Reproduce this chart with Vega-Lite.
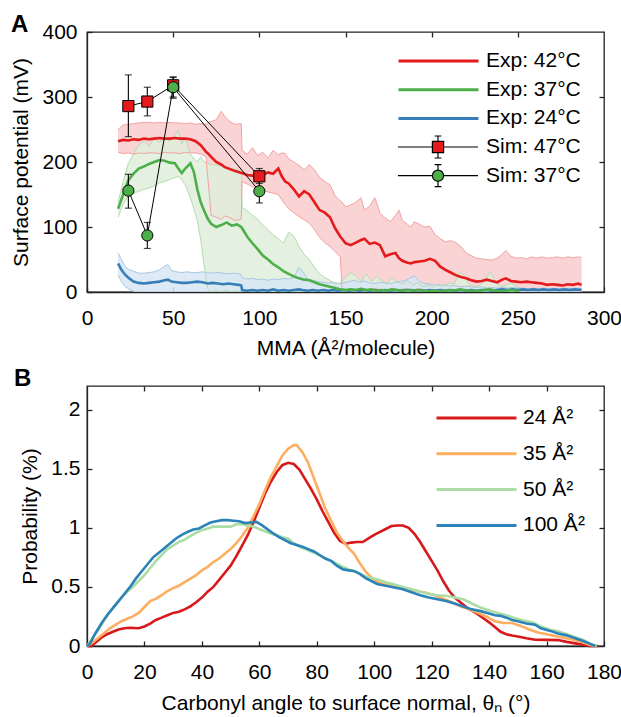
{
"$schema": "https://vega.github.io/schema/vega-lite/v6.json",
"padding": {"left": 10, "top": 12, "right": 0, "bottom": 0},
"background": "white",
"datasets": {
"exp": [
{"s":"Exp: 24°C","x":18,"m":44,"lo":26,"hi":60},{"s":"Exp: 24°C","x":20,"m":34,"lo":16,"hi":50},{"s":"Exp: 24°C","x":22,"m":27,"lo":9,"hi":40},{"s":"Exp: 24°C","x":24,"m":22,"lo":5,"hi":35},{"s":"Exp: 24°C","x":27,"m":16,"lo":1,"hi":32},{"s":"Exp: 24°C","x":30,"m":14,"lo":0,"hi":29},{"s":"Exp: 24°C","x":33,"m":13,"lo":0,"hi":29},{"s":"Exp: 24°C","x":36,"m":14,"lo":0,"hi":30},{"s":"Exp: 24°C","x":39,"m":15,"lo":0,"hi":31},{"s":"Exp: 24°C","x":42,"m":16,"lo":0,"hi":34},{"s":"Exp: 24°C","x":45,"m":18,"lo":0,"hi":40},{"s":"Exp: 24°C","x":47,"m":19,"lo":0,"hi":42},{"s":"Exp: 24°C","x":49,"m":16,"lo":0,"hi":33},{"s":"Exp: 24°C","x":52,"m":15,"lo":0,"hi":31},{"s":"Exp: 24°C","x":55,"m":14,"lo":0,"hi":30},{"s":"Exp: 24°C","x":58,"m":14,"lo":0,"hi":31},{"s":"Exp: 24°C","x":61,"m":15,"lo":0,"hi":30},{"s":"Exp: 24°C","x":64,"m":16,"lo":0,"hi":30},{"s":"Exp: 24°C","x":67,"m":15,"lo":0,"hi":31},{"s":"Exp: 24°C","x":70,"m":13,"lo":0,"hi":30},{"s":"Exp: 24°C","x":73,"m":14,"lo":0,"hi":29},{"s":"Exp: 24°C","x":76,"m":13,"lo":0,"hi":30},{"s":"Exp: 24°C","x":79,"m":12,"lo":0,"hi":29},{"s":"Exp: 24°C","x":82,"m":13,"lo":0,"hi":28},{"s":"Exp: 24°C","x":85,"m":12,"lo":0,"hi":29},{"s":"Exp: 24°C","x":88,"m":11,"lo":0,"hi":28},{"s":"Exp: 24°C","x":89.5,"m":10,"lo":0,"hi":27},{"s":"Exp: 24°C","x":90,"m":3,"lo":0,"hi":22},{"s":"Exp: 24°C","x":93,"m":2,"lo":0,"hi":20},{"s":"Exp: 24°C","x":96,"m":3,"lo":0,"hi":21},{"s":"Exp: 24°C","x":99,"m":2,"lo":0,"hi":19},{"s":"Exp: 24°C","x":102,"m":3,"lo":0,"hi":20},{"s":"Exp: 24°C","x":105,"m":2,"lo":0,"hi":18},{"s":"Exp: 24°C","x":108,"m":4,"lo":0,"hi":20},{"s":"Exp: 24°C","x":111,"m":2,"lo":0,"hi":19},{"s":"Exp: 24°C","x":114,"m":3,"lo":0,"hi":21},{"s":"Exp: 24°C","x":117,"m":2,"lo":0,"hi":20},{"s":"Exp: 24°C","x":120,"m":3,"lo":0,"hi":22},{"s":"Exp: 24°C","x":123,"m":4,"lo":0,"hi":38},{"s":"Exp: 24°C","x":125,"m":3,"lo":0,"hi":32},{"s":"Exp: 24°C","x":128,"m":2,"lo":0,"hi":20},{"s":"Exp: 24°C","x":131,"m":3,"lo":0,"hi":18},{"s":"Exp: 24°C","x":134,"m":2,"lo":0,"hi":16},{"s":"Exp: 24°C","x":137,"m":3,"lo":0,"hi":15},{"s":"Exp: 24°C","x":140,"m":2,"lo":0,"hi":14},{"s":"Exp: 24°C","x":143,"m":3,"lo":0,"hi":15},{"s":"Exp: 24°C","x":146,"m":2,"lo":0,"hi":13},{"s":"Exp: 24°C","x":149,"m":3,"lo":0,"hi":14},{"s":"Exp: 24°C","x":152,"m":2,"lo":0,"hi":16},{"s":"Exp: 24°C","x":155,"m":3,"lo":0,"hi":18},{"s":"Exp: 24°C","x":158,"m":2,"lo":0,"hi":15},{"s":"Exp: 24°C","x":161,"m":3,"lo":0,"hi":17},{"s":"Exp: 24°C","x":164,"m":2,"lo":0,"hi":14},{"s":"Exp: 24°C","x":167,"m":3,"lo":0,"hi":13},{"s":"Exp: 24°C","x":170,"m":2,"lo":0,"hi":15},{"s":"Exp: 24°C","x":173,"m":3,"lo":0,"hi":14},{"s":"Exp: 24°C","x":176,"m":2,"lo":0,"hi":13},{"s":"Exp: 24°C","x":179,"m":3,"lo":0,"hi":15},{"s":"Exp: 24°C","x":182,"m":2,"lo":0,"hi":16},{"s":"Exp: 24°C","x":185,"m":3,"lo":0,"hi":18},{"s":"Exp: 24°C","x":188,"m":3,"lo":0,"hi":22},{"s":"Exp: 24°C","x":190,"m":2,"lo":0,"hi":25},{"s":"Exp: 24°C","x":193,"m":3,"lo":0,"hi":16},{"s":"Exp: 24°C","x":196,"m":2,"lo":0,"hi":13},{"s":"Exp: 24°C","x":199,"m":3,"lo":0,"hi":12},{"s":"Exp: 24°C","x":202,"m":2,"lo":0,"hi":11},{"s":"Exp: 24°C","x":205,"m":3,"lo":0,"hi":10},{"s":"Exp: 24°C","x":208,"m":2,"lo":0,"hi":11},{"s":"Exp: 24°C","x":211,"m":3,"lo":0,"hi":9},{"s":"Exp: 24°C","x":214,"m":2,"lo":0,"hi":10},{"s":"Exp: 24°C","x":217,"m":3,"lo":0,"hi":8},{"s":"Exp: 24°C","x":220,"m":2,"lo":0,"hi":9},{"s":"Exp: 24°C","x":223,"m":3,"lo":0,"hi":8},{"s":"Exp: 24°C","x":226,"m":2,"lo":0,"hi":7},{"s":"Exp: 24°C","x":229,"m":3,"lo":0,"hi":8},{"s":"Exp: 24°C","x":232,"m":3,"lo":0,"hi":6},{"s":"Exp: 24°C","x":235,"m":2,"lo":0,"hi":7},{"s":"Exp: 24°C","x":238,"m":3,"lo":0,"hi":6},{"s":"Exp: 24°C","x":241,"m":4,"lo":0,"hi":7},{"s":"Exp: 24°C","x":244,"m":3,"lo":0,"hi":6},{"s":"Exp: 24°C","x":247,"m":4,"lo":0,"hi":7},{"s":"Exp: 24°C","x":250,"m":3,"lo":0,"hi":6},{"s":"Exp: 24°C","x":253,"m":4,"lo":0,"hi":6},{"s":"Exp: 24°C","x":256,"m":3,"lo":0,"hi":5},{"s":"Exp: 24°C","x":259,"m":4,"lo":0,"hi":6},{"s":"Exp: 24°C","x":262,"m":3,"lo":0,"hi":5},{"s":"Exp: 24°C","x":265,"m":4,"lo":0,"hi":6},{"s":"Exp: 24°C","x":268,"m":3,"lo":0,"hi":5},{"s":"Exp: 24°C","x":271,"m":4,"lo":0,"hi":6},{"s":"Exp: 24°C","x":274,"m":3,"lo":0,"hi":5},{"s":"Exp: 24°C","x":277,"m":4,"lo":0,"hi":6},{"s":"Exp: 24°C","x":280,"m":3,"lo":0,"hi":5},{"s":"Exp: 24°C","x":283,"m":4,"lo":0,"hi":6},{"s":"Exp: 24°C","x":287,"m":3,"lo":0,"hi":5},
{"s":"Exp: 37°C","x":18,"m":128,"lo":115,"hi":138},{"s":"Exp: 37°C","x":21,"m":150,"lo":135,"hi":170},{"s":"Exp: 37°C","x":24,"m":172,"lo":148,"hi":198},{"s":"Exp: 37°C","x":27,"m":182,"lo":152,"hi":212},{"s":"Exp: 37°C","x":30,"m":190,"lo":155,"hi":226},{"s":"Exp: 37°C","x":33,"m":193,"lo":158,"hi":232},{"s":"Exp: 37°C","x":36,"m":197,"lo":160,"hi":224},{"s":"Exp: 37°C","x":39,"m":200,"lo":163,"hi":236},{"s":"Exp: 37°C","x":42,"m":203,"lo":168,"hi":230},{"s":"Exp: 37°C","x":45,"m":202,"lo":170,"hi":238},{"s":"Exp: 37°C","x":48,"m":199,"lo":173,"hi":232},{"s":"Exp: 37°C","x":51,"m":198,"lo":176,"hi":240},{"s":"Exp: 37°C","x":53,"m":190,"lo":178,"hi":248},{"s":"Exp: 37°C","x":55,"m":183,"lo":172,"hi":228},{"s":"Exp: 37°C","x":57,"m":190,"lo":165,"hi":236},{"s":"Exp: 37°C","x":60,"m":198,"lo":145,"hi":212},{"s":"Exp: 37°C","x":62,"m":185,"lo":128,"hi":205},{"s":"Exp: 37°C","x":64,"m":158,"lo":110,"hi":200},{"s":"Exp: 37°C","x":66,"m":138,"lo":80,"hi":208},{"s":"Exp: 37°C","x":68,"m":125,"lo":40,"hi":200},{"s":"Exp: 37°C","x":70,"m":113,"lo":5,"hi":198},{"s":"Exp: 37°C","x":72,"m":105,"lo":0,"hi":196},{"s":"Exp: 37°C","x":75,"m":100,"lo":2,"hi":195},{"s":"Exp: 37°C","x":78,"m":103,"lo":0,"hi":194},{"s":"Exp: 37°C","x":81,"m":107,"lo":3,"hi":192},{"s":"Exp: 37°C","x":84,"m":102,"lo":0,"hi":190},{"s":"Exp: 37°C","x":87,"m":104,"lo":2,"hi":188},{"s":"Exp: 37°C","x":89.5,"m":100,"lo":0,"hi":186},{"s":"Exp: 37°C","x":90,"m":98,"lo":0,"hi":130},{"s":"Exp: 37°C","x":93,"m":85,"lo":2,"hi":125},{"s":"Exp: 37°C","x":96,"m":75,"lo":0,"hi":118},{"s":"Exp: 37°C","x":99,"m":66,"lo":3,"hi":112},{"s":"Exp: 37°C","x":102,"m":56,"lo":0,"hi":103},{"s":"Exp: 37°C","x":105,"m":50,"lo":2,"hi":96},{"s":"Exp: 37°C","x":108,"m":43,"lo":0,"hi":88},{"s":"Exp: 37°C","x":111,"m":38,"lo":3,"hi":82},{"s":"Exp: 37°C","x":114,"m":32,"lo":0,"hi":75},{"s":"Exp: 37°C","x":117,"m":28,"lo":2,"hi":92},{"s":"Exp: 37°C","x":120,"m":24,"lo":0,"hi":86},{"s":"Exp: 37°C","x":123,"m":21,"lo":2,"hi":70},{"s":"Exp: 37°C","x":126,"m":19,"lo":0,"hi":58},{"s":"Exp: 37°C","x":129,"m":18,"lo":1,"hi":50},{"s":"Exp: 37°C","x":132,"m":15,"lo":0,"hi":38},{"s":"Exp: 37°C","x":135,"m":12,"lo":0,"hi":28},{"s":"Exp: 37°C","x":138,"m":10,"lo":0,"hi":22},{"s":"Exp: 37°C","x":141,"m":8,"lo":0,"hi":18},{"s":"Exp: 37°C","x":144,"m":6,"lo":0,"hi":12},{"s":"Exp: 37°C","x":147,"m":4,"lo":0,"hi":14},{"s":"Exp: 37°C","x":150,"m":3,"lo":0,"hi":22},{"s":"Exp: 37°C","x":153,"m":4,"lo":0,"hi":30},{"s":"Exp: 37°C","x":156,"m":3,"lo":0,"hi":25},{"s":"Exp: 37°C","x":159,"m":5,"lo":0,"hi":16},{"s":"Exp: 37°C","x":162,"m":3,"lo":0,"hi":28},{"s":"Exp: 37°C","x":165,"m":4,"lo":0,"hi":16},{"s":"Exp: 37°C","x":168,"m":2,"lo":0,"hi":24},{"s":"Exp: 37°C","x":171,"m":3,"lo":0,"hi":18},{"s":"Exp: 37°C","x":174,"m":2,"lo":0,"hi":12},{"s":"Exp: 37°C","x":177,"m":4,"lo":0,"hi":22},{"s":"Exp: 37°C","x":180,"m":3,"lo":0,"hi":16},{"s":"Exp: 37°C","x":183,"m":2,"lo":0,"hi":12},{"s":"Exp: 37°C","x":186,"m":3,"lo":0,"hi":18},{"s":"Exp: 37°C","x":189,"m":2,"lo":0,"hi":10},{"s":"Exp: 37°C","x":192,"m":3,"lo":0,"hi":14},{"s":"Exp: 37°C","x":195,"m":2,"lo":0,"hi":8},{"s":"Exp: 37°C","x":198,"m":1,"lo":0,"hi":10},{"s":"Exp: 37°C","x":201,"m":2,"lo":0,"hi":8},{"s":"Exp: 37°C","x":204,"m":1,"lo":0,"hi":12},{"s":"Exp: 37°C","x":207,"m":2,"lo":0,"hi":9},{"s":"Exp: 37°C","x":210,"m":3,"lo":0,"hi":14},{"s":"Exp: 37°C","x":213,"m":2,"lo":0,"hi":12},{"s":"Exp: 37°C","x":216,"m":4,"lo":0,"hi":30},{"s":"Exp: 37°C","x":219,"m":3,"lo":0,"hi":25},{"s":"Exp: 37°C","x":222,"m":2,"lo":0,"hi":10},{"s":"Exp: 37°C","x":225,"m":1,"lo":0,"hi":8},{"s":"Exp: 37°C","x":228,"m":2,"lo":0,"hi":10},{"s":"Exp: 37°C","x":231,"m":3,"lo":0,"hi":18},{"s":"Exp: 37°C","x":234,"m":4,"lo":0,"hi":32},{"s":"Exp: 37°C","x":237,"m":2,"lo":0,"hi":15},{"s":"Exp: 37°C","x":240,"m":1,"lo":0,"hi":8},{"s":"Exp: 37°C","x":243,"m":2,"lo":0,"hi":10},{"s":"Exp: 37°C","x":246,"m":3,"lo":0,"hi":14},{"s":"Exp: 37°C","x":249,"m":2,"lo":0,"hi":9},{"s":"Exp: 37°C","x":251,"m":1,"lo":0,"hi":6},
{"s":"Exp: 42°C","x":18,"m":232,"lo":215,"hi":250},{"s":"Exp: 42°C","x":21,"m":234,"lo":213,"hi":257},{"s":"Exp: 42°C","x":24,"m":233,"lo":214,"hi":258},{"s":"Exp: 42°C","x":27,"m":235,"lo":212,"hi":259},{"s":"Exp: 42°C","x":30,"m":234,"lo":214,"hi":260},{"s":"Exp: 42°C","x":33,"m":236,"lo":213,"hi":261},{"s":"Exp: 42°C","x":36,"m":235,"lo":214,"hi":261},{"s":"Exp: 42°C","x":39,"m":236,"lo":214,"hi":260},{"s":"Exp: 42°C","x":42,"m":237,"lo":213,"hi":261},{"s":"Exp: 42°C","x":45,"m":236,"lo":215,"hi":260},{"s":"Exp: 42°C","x":48,"m":236,"lo":214,"hi":261},{"s":"Exp: 42°C","x":51,"m":237,"lo":214,"hi":260},{"s":"Exp: 42°C","x":54,"m":236,"lo":213,"hi":260},{"s":"Exp: 42°C","x":57,"m":236,"lo":215,"hi":259},{"s":"Exp: 42°C","x":60,"m":235,"lo":214,"hi":260},{"s":"Exp: 42°C","x":63,"m":232,"lo":214,"hi":258},{"s":"Exp: 42°C","x":66,"m":226,"lo":212,"hi":259},{"s":"Exp: 42°C","x":69,"m":216,"lo":208,"hi":258},{"s":"Exp: 42°C","x":71,"m":211,"lo":150,"hi":262},{"s":"Exp: 42°C","x":72,"m":208,"lo":118,"hi":262},{"s":"Exp: 42°C","x":75,"m":200,"lo":115,"hi":265},{"s":"Exp: 42°C","x":78,"m":196,"lo":112,"hi":278},{"s":"Exp: 42°C","x":80,"m":192,"lo":117,"hi":270},{"s":"Exp: 42°C","x":83,"m":189,"lo":114,"hi":262},{"s":"Exp: 42°C","x":86,"m":186,"lo":110,"hi":258},{"s":"Exp: 42°C","x":89.5,"m":183,"lo":112,"hi":259},{"s":"Exp: 42°C","x":90,"m":183,"lo":170,"hi":218},{"s":"Exp: 42°C","x":93,"m":180,"lo":166,"hi":212},{"s":"Exp: 42°C","x":96,"m":179,"lo":162,"hi":222},{"s":"Exp: 42°C","x":99,"m":178,"lo":158,"hi":210},{"s":"Exp: 42°C","x":102,"m":180,"lo":156,"hi":215},{"s":"Exp: 42°C","x":105,"m":184,"lo":154,"hi":206},{"s":"Exp: 42°C","x":108,"m":182,"lo":152,"hi":218},{"s":"Exp: 42°C","x":111,"m":190,"lo":150,"hi":211},{"s":"Exp: 42°C","x":113,"m":178,"lo":142,"hi":214},{"s":"Exp: 42°C","x":115,"m":170,"lo":135,"hi":213},{"s":"Exp: 42°C","x":117,"m":167,"lo":128,"hi":205},{"s":"Exp: 42°C","x":120,"m":158,"lo":122,"hi":200},{"s":"Exp: 42°C","x":123,"m":147,"lo":116,"hi":195},{"s":"Exp: 42°C","x":126,"m":155,"lo":111,"hi":188},{"s":"Exp: 42°C","x":129,"m":150,"lo":106,"hi":196},{"s":"Exp: 42°C","x":132,"m":138,"lo":96,"hi":188},{"s":"Exp: 42°C","x":135,"m":126,"lo":84,"hi":176},{"s":"Exp: 42°C","x":138,"m":122,"lo":76,"hi":170},{"s":"Exp: 42°C","x":141,"m":115,"lo":70,"hi":165},{"s":"Exp: 42°C","x":144,"m":98,"lo":62,"hi":148},{"s":"Exp: 42°C","x":147,"m":85,"lo":54,"hi":140},{"s":"Exp: 42°C","x":148,"m":82,"lo":4,"hi":138},{"s":"Exp: 42°C","x":150,"m":75,"lo":3,"hi":131},{"s":"Exp: 42°C","x":153,"m":72,"lo":5,"hi":134},{"s":"Exp: 42°C","x":156,"m":76,"lo":3,"hi":138},{"s":"Exp: 42°C","x":159,"m":80,"lo":6,"hi":145},{"s":"Exp: 42°C","x":161,"m":82,"lo":4,"hi":126},{"s":"Exp: 42°C","x":164,"m":74,"lo":3,"hi":132},{"s":"Exp: 42°C","x":167,"m":76,"lo":5,"hi":145},{"s":"Exp: 42°C","x":170,"m":72,"lo":4,"hi":122},{"s":"Exp: 42°C","x":173,"m":55,"lo":3,"hi":114},{"s":"Exp: 42°C","x":176,"m":58,"lo":5,"hi":108},{"s":"Exp: 42°C","x":179,"m":60,"lo":4,"hi":118},{"s":"Exp: 42°C","x":181,"m":52,"lo":3,"hi":126},{"s":"Exp: 42°C","x":183,"m":48,"lo":5,"hi":110},{"s":"Exp: 42°C","x":186,"m":45,"lo":4,"hi":104},{"s":"Exp: 42°C","x":188,"m":44,"lo":3,"hi":100},{"s":"Exp: 42°C","x":190,"m":46,"lo":4,"hi":108},{"s":"Exp: 42°C","x":193,"m":47,"lo":5,"hi":104},{"s":"Exp: 42°C","x":196,"m":48,"lo":3,"hi":100},{"s":"Exp: 42°C","x":199,"m":51,"lo":4,"hi":101},{"s":"Exp: 42°C","x":202,"m":48,"lo":3,"hi":88},{"s":"Exp: 42°C","x":205,"m":39,"lo":4,"hi":82},{"s":"Exp: 42°C","x":208,"m":34,"lo":3,"hi":77},{"s":"Exp: 42°C","x":211,"m":30,"lo":2,"hi":79},{"s":"Exp: 42°C","x":214,"m":26,"lo":3,"hi":76},{"s":"Exp: 42°C","x":217,"m":23,"lo":2,"hi":70},{"s":"Exp: 42°C","x":220,"m":21,"lo":3,"hi":60},{"s":"Exp: 42°C","x":223,"m":18,"lo":2,"hi":56},{"s":"Exp: 42°C","x":226,"m":16,"lo":2,"hi":52},{"s":"Exp: 42°C","x":229,"m":17,"lo":3,"hi":51},{"s":"Exp: 42°C","x":232,"m":19,"lo":2,"hi":50},{"s":"Exp: 42°C","x":235,"m":17,"lo":2,"hi":49},{"s":"Exp: 42°C","x":238,"m":15,"lo":3,"hi":52},{"s":"Exp: 42°C","x":241,"m":19,"lo":2,"hi":58},{"s":"Exp: 42°C","x":243,"m":21,"lo":2,"hi":64},{"s":"Exp: 42°C","x":246,"m":17,"lo":3,"hi":55},{"s":"Exp: 42°C","x":249,"m":16,"lo":2,"hi":52},{"s":"Exp: 42°C","x":252,"m":15,"lo":2,"hi":53},{"s":"Exp: 42°C","x":255,"m":16,"lo":3,"hi":51},{"s":"Exp: 42°C","x":258,"m":15,"lo":2,"hi":54},{"s":"Exp: 42°C","x":261,"m":14,"lo":2,"hi":52},{"s":"Exp: 42°C","x":264,"m":13,"lo":3,"hi":54},{"s":"Exp: 42°C","x":267,"m":11,"lo":2,"hi":52},{"s":"Exp: 42°C","x":270,"m":12,"lo":2,"hi":53},{"s":"Exp: 42°C","x":273,"m":11,"lo":3,"hi":54},{"s":"Exp: 42°C","x":276,"m":10,"lo":2,"hi":52},{"s":"Exp: 42°C","x":279,"m":12,"lo":2,"hi":54},{"s":"Exp: 42°C","x":282,"m":11,"lo":3,"hi":53},{"s":"Exp: 42°C","x":285,"m":13,"lo":2,"hi":54},{"s":"Exp: 42°C","x":287,"m":11,"lo":2,"hi":53}
],
"sim": [
{"s":"Sim: 47°C","x":24,"v":286,"lo":239,"hi":334},{"s":"Sim: 47°C","x":35,"v":293,"lo":271,"hi":315},{"s":"Sim: 47°C","x":50,"v":318,"lo":298,"hi":331},{"s":"Sim: 47°C","x":100,"v":178,"lo":167,"hi":190},
{"s":"Sim: 37°C","x":24,"v":156,"lo":129,"hi":181},{"s":"Sim: 37°C","x":35,"v":87,"lo":67,"hi":107},{"s":"Sim: 37°C","x":50,"v":315,"lo":300,"hi":330},{"s":"Sim: 37°C","x":100,"v":155,"lo":137,"hi":172}
],
"ang": [
{"a":"24 Å²","x":0,"p":0},{"a":"24 Å²","x":1.5,"p":0},{"a":"24 Å²","x":3,"p":0.03},{"a":"24 Å²","x":5,"p":0.07},{"a":"24 Å²","x":7,"p":0.1},{"a":"24 Å²","x":9,"p":0.12},{"a":"24 Å²","x":11,"p":0.14},{"a":"24 Å²","x":13,"p":0.15},{"a":"24 Å²","x":15,"p":0.155},{"a":"24 Å²","x":18,"p":0.15},{"a":"24 Å²","x":20,"p":0.165},{"a":"24 Å²","x":22,"p":0.19},{"a":"24 Å²","x":24,"p":0.22},{"a":"24 Å²","x":26,"p":0.24},{"a":"24 Å²","x":28,"p":0.26},{"a":"24 Å²","x":30,"p":0.28},{"a":"24 Å²","x":32,"p":0.29},{"a":"24 Å²","x":34,"p":0.31},{"a":"24 Å²","x":36,"p":0.335},{"a":"24 Å²","x":38,"p":0.37},{"a":"24 Å²","x":40,"p":0.41},{"a":"24 Å²","x":42,"p":0.46},{"a":"24 Å²","x":44,"p":0.5},{"a":"24 Å²","x":46,"p":0.56},{"a":"24 Å²","x":48,"p":0.62},{"a":"24 Å²","x":50,"p":0.68},{"a":"24 Å²","x":52,"p":0.76},{"a":"24 Å²","x":54,"p":0.85},{"a":"24 Å²","x":56,"p":0.94},{"a":"24 Å²","x":58,"p":1.05},{"a":"24 Å²","x":60,"p":1.17},{"a":"24 Å²","x":62,"p":1.29},{"a":"24 Å²","x":64,"p":1.39},{"a":"24 Å²","x":66,"p":1.47},{"a":"24 Å²","x":68,"p":1.53},{"a":"24 Å²","x":70,"p":1.55},{"a":"24 Å²","x":72,"p":1.54},{"a":"24 Å²","x":74,"p":1.49},{"a":"24 Å²","x":76,"p":1.41},{"a":"24 Å²","x":78,"p":1.33},{"a":"24 Å²","x":80,"p":1.24},{"a":"24 Å²","x":82,"p":1.14},{"a":"24 Å²","x":84,"p":1.05},{"a":"24 Å²","x":86,"p":0.96},{"a":"24 Å²","x":88,"p":0.89},{"a":"24 Å²","x":90,"p":0.865},{"a":"24 Å²","x":92,"p":0.875},{"a":"24 Å²","x":94,"p":0.88},{"a":"24 Å²","x":96,"p":0.88},{"a":"24 Å²","x":98,"p":0.91},{"a":"24 Å²","x":100,"p":0.94},{"a":"24 Å²","x":102,"p":0.965},{"a":"24 Å²","x":104,"p":0.99},{"a":"24 Å²","x":106,"p":1.015},{"a":"24 Å²","x":108,"p":1.02},{"a":"24 Å²","x":110,"p":1.02},{"a":"24 Å²","x":112,"p":1.0},{"a":"24 Å²","x":114,"p":0.95},{"a":"24 Å²","x":116,"p":0.88},{"a":"24 Å²","x":118,"p":0.8},{"a":"24 Å²","x":120,"p":0.72},{"a":"24 Å²","x":122,"p":0.64},{"a":"24 Å²","x":124,"p":0.55},{"a":"24 Å²","x":126,"p":0.47},{"a":"24 Å²","x":128,"p":0.41},{"a":"24 Å²","x":130,"p":0.37},{"a":"24 Å²","x":132,"p":0.33},{"a":"24 Å²","x":134,"p":0.3},{"a":"24 Å²","x":136,"p":0.27},{"a":"24 Å²","x":138,"p":0.235},{"a":"24 Å²","x":140,"p":0.2},{"a":"24 Å²","x":142,"p":0.16},{"a":"24 Å²","x":144,"p":0.12},{"a":"24 Å²","x":146,"p":0.1},{"a":"24 Å²","x":148,"p":0.088},{"a":"24 Å²","x":150,"p":0.08},{"a":"24 Å²","x":153,"p":0.065},{"a":"24 Å²","x":156,"p":0.053},{"a":"24 Å²","x":160,"p":0.052},{"a":"24 Å²","x":164,"p":0.05},{"a":"24 Å²","x":167,"p":0.035},{"a":"24 Å²","x":170,"p":0.022},{"a":"24 Å²","x":173,"p":0.01},{"a":"24 Å²","x":175,"p":0},{"a":"24 Å²","x":178,"p":0},
{"a":"35 Å²","x":0,"p":0},{"a":"35 Å²","x":2,"p":0.03},{"a":"35 Å²","x":4,"p":0.07},{"a":"35 Å²","x":6,"p":0.11},{"a":"35 Å²","x":8,"p":0.15},{"a":"35 Å²","x":10,"p":0.18},{"a":"35 Å²","x":12,"p":0.21},{"a":"35 Å²","x":14,"p":0.23},{"a":"35 Å²","x":16,"p":0.25},{"a":"35 Å²","x":18,"p":0.28},{"a":"35 Å²","x":20,"p":0.33},{"a":"35 Å²","x":22,"p":0.38},{"a":"35 Å²","x":24,"p":0.4},{"a":"35 Å²","x":26,"p":0.43},{"a":"35 Å²","x":28,"p":0.465},{"a":"35 Å²","x":30,"p":0.49},{"a":"35 Å²","x":32,"p":0.51},{"a":"35 Å²","x":34,"p":0.54},{"a":"35 Å²","x":36,"p":0.57},{"a":"35 Å²","x":38,"p":0.6},{"a":"35 Å²","x":40,"p":0.64},{"a":"35 Å²","x":42,"p":0.67},{"a":"35 Å²","x":44,"p":0.71},{"a":"35 Å²","x":46,"p":0.74},{"a":"35 Å²","x":48,"p":0.78},{"a":"35 Å²","x":50,"p":0.82},{"a":"35 Å²","x":52,"p":0.87},{"a":"35 Å²","x":54,"p":0.93},{"a":"35 Å²","x":56,"p":1.0},{"a":"35 Å²","x":58,"p":1.1},{"a":"35 Å²","x":60,"p":1.2},{"a":"35 Å²","x":62,"p":1.32},{"a":"35 Å²","x":64,"p":1.43},{"a":"35 Å²","x":66,"p":1.52},{"a":"35 Å²","x":68,"p":1.61},{"a":"35 Å²","x":70,"p":1.67},{"a":"35 Å²","x":72,"p":1.7},{"a":"35 Å²","x":73,"p":1.7},{"a":"35 Å²","x":75,"p":1.64},{"a":"35 Å²","x":77,"p":1.55},{"a":"35 Å²","x":79,"p":1.42},{"a":"35 Å²","x":81,"p":1.29},{"a":"35 Å²","x":83,"p":1.16},{"a":"35 Å²","x":85,"p":1.06},{"a":"35 Å²","x":87,"p":0.96},{"a":"35 Å²","x":89,"p":0.89},{"a":"35 Å²","x":91,"p":0.83},{"a":"35 Å²","x":93,"p":0.78},{"a":"35 Å²","x":95,"p":0.7},{"a":"35 Å²","x":97,"p":0.63},{"a":"35 Å²","x":99,"p":0.58},{"a":"35 Å²","x":101,"p":0.545},{"a":"35 Å²","x":103,"p":0.525},{"a":"35 Å²","x":106,"p":0.51},{"a":"35 Å²","x":109,"p":0.495},{"a":"35 Å²","x":112,"p":0.48},{"a":"35 Å²","x":115,"p":0.465},{"a":"35 Å²","x":118,"p":0.45},{"a":"35 Å²","x":121,"p":0.43},{"a":"35 Å²","x":124,"p":0.4},{"a":"35 Å²","x":127,"p":0.37},{"a":"35 Å²","x":130,"p":0.335},{"a":"35 Å²","x":133,"p":0.31},{"a":"35 Å²","x":136,"p":0.28},{"a":"35 Å²","x":139,"p":0.25},{"a":"35 Å²","x":142,"p":0.21},{"a":"35 Å²","x":145,"p":0.195},{"a":"35 Å²","x":148,"p":0.195},{"a":"35 Å²","x":151,"p":0.17},{"a":"35 Å²","x":154,"p":0.14},{"a":"35 Å²","x":157,"p":0.115},{"a":"35 Å²","x":160,"p":0.1},{"a":"35 Å²","x":163,"p":0.085},{"a":"35 Å²","x":166,"p":0.07},{"a":"35 Å²","x":169,"p":0.055},{"a":"35 Å²","x":172,"p":0.035},{"a":"35 Å²","x":175,"p":0.01},{"a":"35 Å²","x":177,"p":0},
{"a":"50 Å²","x":0,"p":0},{"a":"50 Å²","x":2,"p":0.07},{"a":"50 Å²","x":4,"p":0.14},{"a":"50 Å²","x":6,"p":0.22},{"a":"50 Å²","x":8,"p":0.29},{"a":"50 Å²","x":10,"p":0.35},{"a":"50 Å²","x":12,"p":0.41},{"a":"50 Å²","x":14,"p":0.46},{"a":"50 Å²","x":16,"p":0.5},{"a":"50 Å²","x":18,"p":0.55},{"a":"50 Å²","x":20,"p":0.6},{"a":"50 Å²","x":22,"p":0.66},{"a":"50 Å²","x":24,"p":0.72},{"a":"50 Å²","x":26,"p":0.77},{"a":"50 Å²","x":28,"p":0.82},{"a":"50 Å²","x":30,"p":0.85},{"a":"50 Å²","x":32,"p":0.88},{"a":"50 Å²","x":34,"p":0.9},{"a":"50 Å²","x":36,"p":0.93},{"a":"50 Å²","x":38,"p":0.96},{"a":"50 Å²","x":40,"p":0.98},{"a":"50 Å²","x":42,"p":0.995},{"a":"50 Å²","x":44,"p":1.01},{"a":"50 Å²","x":46,"p":1.01},{"a":"50 Å²","x":48,"p":1.01},{"a":"50 Å²","x":50,"p":1.01},{"a":"50 Å²","x":52,"p":1.03},{"a":"50 Å²","x":54,"p":1.03},{"a":"50 Å²","x":56,"p":1.02},{"a":"50 Å²","x":58,"p":1.01},{"a":"50 Å²","x":60,"p":0.99},{"a":"50 Å²","x":62,"p":0.97},{"a":"50 Å²","x":64,"p":0.95},{"a":"50 Å²","x":66,"p":0.94},{"a":"50 Å²","x":68,"p":0.92},{"a":"50 Å²","x":70,"p":0.91},{"a":"50 Å²","x":72,"p":0.87},{"a":"50 Å²","x":74,"p":0.84},{"a":"50 Å²","x":76,"p":0.82},{"a":"50 Å²","x":78,"p":0.8},{"a":"50 Å²","x":80,"p":0.78},{"a":"50 Å²","x":83,"p":0.74},{"a":"50 Å²","x":86,"p":0.71},{"a":"50 Å²","x":89,"p":0.67},{"a":"50 Å²","x":92,"p":0.64},{"a":"50 Å²","x":95,"p":0.61},{"a":"50 Å²","x":98,"p":0.58},{"a":"50 Å²","x":101,"p":0.565},{"a":"50 Å²","x":104,"p":0.54},{"a":"50 Å²","x":107,"p":0.52},{"a":"50 Å²","x":110,"p":0.5},{"a":"50 Å²","x":113,"p":0.48},{"a":"50 Å²","x":116,"p":0.46},{"a":"50 Å²","x":119,"p":0.44},{"a":"50 Å²","x":122,"p":0.43},{"a":"50 Å²","x":125,"p":0.425},{"a":"50 Å²","x":128,"p":0.41},{"a":"50 Å²","x":131,"p":0.395},{"a":"50 Å²","x":134,"p":0.36},{"a":"50 Å²","x":137,"p":0.325},{"a":"50 Å²","x":140,"p":0.3},{"a":"50 Å²","x":143,"p":0.28},{"a":"50 Å²","x":146,"p":0.26},{"a":"50 Å²","x":149,"p":0.235},{"a":"50 Å²","x":152,"p":0.215},{"a":"50 Å²","x":155,"p":0.2},{"a":"50 Å²","x":158,"p":0.165},{"a":"50 Å²","x":161,"p":0.14},{"a":"50 Å²","x":164,"p":0.125},{"a":"50 Å²","x":167,"p":0.1},{"a":"50 Å²","x":170,"p":0.075},{"a":"50 Å²","x":173,"p":0.05},{"a":"50 Å²","x":176,"p":0.01},{"a":"50 Å²","x":177.5,"p":0},
{"a":"100 Å²","x":0,"p":0},{"a":"100 Å²","x":1,"p":0.02},{"a":"100 Å²","x":3,"p":0.11},{"a":"100 Å²","x":5,"p":0.19},{"a":"100 Å²","x":7,"p":0.26},{"a":"100 Å²","x":9,"p":0.32},{"a":"100 Å²","x":11,"p":0.38},{"a":"100 Å²","x":13,"p":0.44},{"a":"100 Å²","x":15,"p":0.5},{"a":"100 Å²","x":17,"p":0.57},{"a":"100 Å²","x":19,"p":0.63},{"a":"100 Å²","x":21,"p":0.69},{"a":"100 Å²","x":23,"p":0.75},{"a":"100 Å²","x":25,"p":0.79},{"a":"100 Å²","x":27,"p":0.83},{"a":"100 Å²","x":29,"p":0.87},{"a":"100 Å²","x":31,"p":0.91},{"a":"100 Å²","x":33,"p":0.94},{"a":"100 Å²","x":35,"p":0.965},{"a":"100 Å²","x":37,"p":0.985},{"a":"100 Å²","x":39,"p":0.995},{"a":"100 Å²","x":41,"p":1.02},{"a":"100 Å²","x":43,"p":1.045},{"a":"100 Å²","x":45,"p":1.055},{"a":"100 Å²","x":47,"p":1.065},{"a":"100 Å²","x":49,"p":1.065},{"a":"100 Å²","x":51,"p":1.06},{"a":"100 Å²","x":53,"p":1.055},{"a":"100 Å²","x":55,"p":1.04},{"a":"100 Å²","x":57,"p":1.045},{"a":"100 Å²","x":59,"p":1.05},{"a":"100 Å²","x":61,"p":1.02},{"a":"100 Å²","x":63,"p":0.985},{"a":"100 Å²","x":65,"p":0.95},{"a":"100 Å²","x":67,"p":0.92},{"a":"100 Å²","x":69,"p":0.895},{"a":"100 Å²","x":71,"p":0.87},{"a":"100 Å²","x":73,"p":0.855},{"a":"100 Å²","x":75,"p":0.84},{"a":"100 Å²","x":77,"p":0.82},{"a":"100 Å²","x":79,"p":0.8},{"a":"100 Å²","x":81,"p":0.77},{"a":"100 Å²","x":83,"p":0.74},{"a":"100 Å²","x":85,"p":0.72},{"a":"100 Å²","x":87,"p":0.68},{"a":"100 Å²","x":89,"p":0.65},{"a":"100 Å²","x":91,"p":0.64},{"a":"100 Å²","x":93,"p":0.635},{"a":"100 Å²","x":95,"p":0.61},{"a":"100 Å²","x":97,"p":0.575},{"a":"100 Å²","x":99,"p":0.55},{"a":"100 Å²","x":101,"p":0.525},{"a":"100 Å²","x":104,"p":0.51},{"a":"100 Å²","x":107,"p":0.495},{"a":"100 Å²","x":110,"p":0.48},{"a":"100 Å²","x":113,"p":0.455},{"a":"100 Å²","x":116,"p":0.43},{"a":"100 Å²","x":119,"p":0.41},{"a":"100 Å²","x":122,"p":0.395},{"a":"100 Å²","x":125,"p":0.38},{"a":"100 Å²","x":128,"p":0.36},{"a":"100 Å²","x":131,"p":0.335},{"a":"100 Å²","x":134,"p":0.31},{"a":"100 Å²","x":137,"p":0.295},{"a":"100 Å²","x":140,"p":0.275},{"a":"100 Å²","x":142,"p":0.26},{"a":"100 Å²","x":144,"p":0.255},{"a":"100 Å²","x":146,"p":0.24},{"a":"100 Å²","x":148,"p":0.22},{"a":"100 Å²","x":150,"p":0.21},{"a":"100 Å²","x":153,"p":0.19},{"a":"100 Å²","x":156,"p":0.18},{"a":"100 Å²","x":158,"p":0.15},{"a":"100 Å²","x":161,"p":0.13},{"a":"100 Å²","x":164,"p":0.105},{"a":"100 Å²","x":167,"p":0.09},{"a":"100 Å²","x":170,"p":0.065},{"a":"100 Å²","x":173,"p":0.04},{"a":"100 Å²","x":175,"p":0.02},{"a":"100 Å²","x":177,"p":0}
]
},
"vconcat": [
{
"width": 517, "height": 260,
"title": {"text": "A", "anchor": "start", "frame": "group", "fontSize": 24, "fontWeight": "bold", "dx": -76, "offset": -16, "color": "#000"},
"layer": [
{"data": {"name": "exp"}, "transform": [{"filter": "datum.s == 'Exp: 42°C'"}], "mark": {"type": "area", "fill": "#fad4d4", "fillOpacity": 1, "clip": true},
 "encoding": {
  "x": {"field": "x", "type": "quantitative", "scale": {"domain": [0, 300]}, "axis": {"orient": "bottom", "values": [0,50,100,150,200,250,300], "title": "MMA (Å²/molecule)", "labelPadding": 20, "titlePadding": 9}},
  "y": {"field": "lo", "type": "quantitative", "stack": null, "scale": {"domain": [0, 400]}, "axis": {"orient": "left", "values": [0,100,200,300,400], "title": "Surface potential (mV)", "labelPadding": 15, "titlePadding": 10}},
  "y2": {"field": "hi"}
 }},
{"data": {"name": "exp"}, "transform": [{"filter": "datum.s == 'Exp: 37°C'"}], "mark": {"type": "area", "fill": "#dfefdc", "fillOpacity": 0.85, "clip": true},
 "encoding": {
  "x": {"field": "x", "type": "quantitative", "axis": null},
  "y": {"field": "lo", "type": "quantitative", "stack": null, "axis": null},
  "y2": {"field": "hi"}
 }},
{"data": {"name": "exp"}, "transform": [{"filter": "datum.s == 'Exp: 24°C'"}], "mark": {"type": "area", "fill": "#d8e6f3", "fillOpacity": 0.85, "clip": true},
 "encoding": {
  "x": {"field": "x", "type": "quantitative", "axis": null},
  "y": {"field": "lo", "type": "quantitative", "stack": null, "axis": null},
  "y2": {"field": "hi"}
 }},
{"data": {"name": "exp"}, "mark": {"type": "line", "strokeWidth": 1, "clip": true},
 "encoding": {
  "x": {"field": "x", "type": "quantitative", "axis": null},
  "y": {"field": "hi", "type": "quantitative", "axis": null},
  "stroke": {"field": "s", "type": "nominal", "scale": {"domain": ["Exp: 42°C","Exp: 37°C","Exp: 24°C"], "range": ["#f3a2a3","#b4dcb2","#a9c7e2"]}, "legend": null}
 }},
{"data": {"name": "exp"}, "mark": {"type": "line", "strokeWidth": 1, "clip": true},
 "encoding": {
  "x": {"field": "x", "type": "quantitative", "axis": null},
  "y": {"field": "lo", "type": "quantitative", "axis": null},
  "stroke": {"field": "s", "type": "nominal", "legend": null}
 }},
{"data": {"name": "exp"}, "mark": {"type": "line", "strokeWidth": 2.6, "clip": true},
 "encoding": {
  "x": {"field": "x", "type": "quantitative", "axis": {"orient": "top", "values": [50,100,150,200,250], "labels": false, "title": null, "domain": false}},
  "y": {"field": "m", "type": "quantitative", "axis": {"orient": "right", "values": [100,200,300], "labels": false, "title": null, "domain": false}},
  "color": {"field": "s", "type": "nominal", "scale": {"domain": ["Exp: 42°C","Exp: 37°C","Exp: 24°C"], "range": ["#e41a1c","#4daf4a","#377eb8"]}, "legend": {
    "orient": "none", "legendX": 310, "legendY": 16, "title": null, "padding": 0,
    "symbolType": "stroke", "symbolSize": 6400, "symbolStrokeWidth": 3,
    "clipHeight": 26, "rowPadding": 2.7,
    "labelFontSize": 21, "labelColor": "#000", "labelOffset": 6
  }}
 }},
{"data": {"name": "sim"}, "mark": {"type": "line", "color": "#000", "strokeWidth": 1},
 "encoding": {
  "x": {"field": "x", "type": "quantitative", "axis": null},
  "y": {"field": "v", "type": "quantitative", "axis": null},
  "detail": {"field": "s"}
 }},
{"data": {"name": "sim"}, "mark": {"type": "rule", "color": "#000", "strokeWidth": 1.1},
 "encoding": {
  "x": {"field": "x", "type": "quantitative", "axis": null},
  "y": {"field": "lo", "type": "quantitative", "axis": null},
  "y2": {"field": "hi"}
 }},
{"data": {"name": "sim"}, "mark": {"type": "tick", "orient": "horizontal", "color": "#000", "size": 7, "thickness": 1.2},
 "encoding": {
  "x": {"field": "x", "type": "quantitative", "axis": null},
  "y": {"field": "lo", "type": "quantitative", "axis": null}
 }},
{"data": {"name": "sim"}, "mark": {"type": "tick", "orient": "horizontal", "color": "#000", "size": 7, "thickness": 1.2},
 "encoding": {
  "x": {"field": "x", "type": "quantitative", "axis": null},
  "y": {"field": "hi", "type": "quantitative", "axis": null}
 }},
{"data": {"name": "sim"}, "transform": [{"filter": "datum.s == 'Sim: 47°C'"}],
 "mark": {"type": "point", "shape": "square", "filled": true, "fill": "#e41a1c", "size": 125, "stroke": "#000", "strokeWidth": 1, "opacity": 1},
 "encoding": {
  "x": {"field": "x", "type": "quantitative", "axis": null},
  "y": {"field": "v", "type": "quantitative", "axis": null}
 }},
{"data": {"name": "sim"}, "transform": [{"filter": "datum.s == 'Sim: 37°C'"}],
 "mark": {"type": "point", "shape": "circle", "filled": true, "fill": "#4daf4a", "size": 125, "stroke": "#000", "strokeWidth": 1, "opacity": 1},
 "encoding": {
  "x": {"field": "x", "type": "quantitative", "axis": null},
  "y": {"field": "v", "type": "quantitative", "axis": null}
 }},
{"data": {"name": "sim"}, "transform": [{"filter": "datum.x < 0"}],
 "mark": {"type": "point", "filled": true, "fill": "#e41a1c", "size": 6400, "stroke": "#000000", "strokeWidth": 1.2, "opacity": 1},
 "encoding": {
  "x": {"field": "x", "type": "quantitative", "axis": null},
  "y": {"field": "v", "type": "quantitative", "axis": null},
  "shape": {"field": "s", "type": "nominal", "scale": {"domain": ["Sim: 47°C"], "range": ["M-1,0H-0.14M0.14,0H1M-0.14,-0.14H0.14V0.14H-0.14ZM0,-0.14V-0.275M-0.085,-0.275H0.085M0,0.14V0.275M-0.085,0.275H0.085"]}, "legend": {
    "orient": "none", "legendX": 310, "legendY": 102, "title": null, "padding": 0,
    "symbolSize": 6400, "symbolStrokeWidth": 1.2,
    "clipHeight": 26,
    "labelFontSize": 21, "labelColor": "#000", "labelOffset": 7
  }}
 }},
{"data": {"name": "sim"}, "transform": [{"filter": "datum.x < 0"}],
 "mark": {"type": "point", "filled": true, "fill": "#4daf4a", "size": 6400, "stroke": "#000000", "strokeWidth": 1.2},
 "encoding": {
  "x": {"field": "x", "type": "quantitative", "axis": null},
  "y": {"field": "v", "type": "quantitative", "axis": null},
  "opacity": {"field": "s", "type": "nominal", "scale": {"domain": ["Sim: 37°C"], "range": [1]}, "legend": {
    "orient": "none", "legendX": 310, "legendY": 130.7, "title": null, "padding": 0,
    "symbolType": "M-1,0H-0.14M0.14,0H1M0.14,0A0.14,0.14 0 1,1 -0.14,0A0.14,0.14 0 1,1 0.14,0ZM0,-0.14V-0.275M-0.085,-0.275H0.085M0,0.14V0.275M-0.085,0.275H0.085",
    "symbolSize": 6400, "symbolStrokeWidth": 1.2,
    "clipHeight": 26,
    "labelFontSize": 21, "labelColor": "#000", "labelOffset": 7
  }}
 }}
]
},
{
"width": 517, "height": 260,
"title": {"text": "B", "anchor": "start", "frame": "group", "fontSize": 24, "fontWeight": "bold", "dx": -73, "offset": -6, "color": "#000"},
"data": {"name": "ang"},
"layer": [
{"mark": {"type": "line", "strokeWidth": 2.6},
 "encoding": {
  "x": {"field": "x", "type": "quantitative", "scale": {"domain": [0, 180]}, "axis": {"orient": "bottom", "values": [0,20,40,60,80,100,120,140,160,180], "title": "Carbonyl angle to surface normal, θₙ (°)", "labelPadding": 20, "titlePadding": 10}},
  "y": {"field": "p", "type": "quantitative", "scale": {"domain": [0, 2.2]}, "axis": {"orient": "left", "values": [0,0.5,1,1.5,2], "format": "~g", "title": "Probability (%)", "labelPadding": 12, "titlePadding": 10}},
  "color": {"field": "a", "type": "nominal", "scale": {"domain": ["24 Å²","35 Å²","50 Å²","100 Å²"], "range": ["#d7191c","#fdae61","#abdda4","#2b83ba"]}, "legend": {
    "orient": "none", "legendX": 348, "legendY": 17, "title": null, "padding": 0,
    "symbolType": "stroke", "symbolSize": 6400, "symbolStrokeWidth": 3, "clipHeight": 30, "rowPadding": 5.8,
    "labelFontSize": 21, "labelColor": "#000", "labelOffset": 5
  }}
 }},
{"mark": {"type": "point", "opacity": 0},
 "encoding": {
  "x": {"field": "x", "type": "quantitative", "axis": {"orient": "top", "values": [20,40,60,80,100,120,140,160], "labels": false, "title": null, "domain": false}},
  "y": {"field": "p", "type": "quantitative", "axis": {"orient": "right", "values": [0.5,1,1.5,2], "labels": false, "title": null, "domain": false}}
 }}
]
}
],
"spacing": 7,
"resolve": {"scale": {"color": "independent"}, "legend": {"color": "independent"}},
"config": {
 "font": "Liberation Sans",
 "view": {"stroke": "#222222", "strokeWidth": 1.3},
 "axis": {"grid": false, "labelFlush": false, "domainColor": "#222222", "domainWidth": 1.3, "tickColor": "#222222", "tickWidth": 1.3, "tickSize": -5, "labelFontSize": 21, "labelColor": "#000000", "titleFontSize": 21, "titleFontWeight": "normal", "titleColor": "#000000", "labelFont": "Liberation Sans", "titleFont": "Liberation Sans"},
 "legend": {"labelFont": "Liberation Sans"},
 "title": {"font": "Liberation Sans"}
}
}
